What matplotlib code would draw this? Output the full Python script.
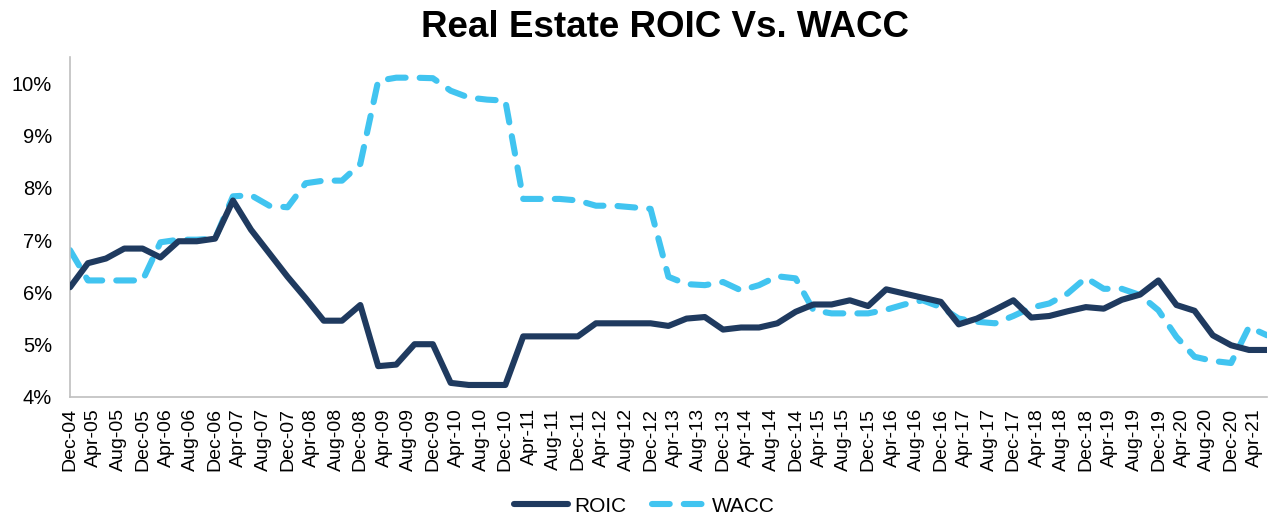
import numpy as np
import pandas as pd
import matplotlib
matplotlib.use("Agg")
import matplotlib.pyplot as plt

plt.rcParams['font.family'] = ['Liberation Sans', 'DejaVu Sans']

# Quarterly data, Dec-04 to Jun-21 (values in %)
datas = pd.date_range("2004-12-31", periods=67, freq="QE")

roic = [6.10, 6.56, 6.65, 6.84, 6.84, 6.67, 6.98, 6.98, 7.03, 7.76,
        7.20, 6.75, 6.30, 5.89, 5.46, 5.46, 5.76, 4.59, 4.62, 5.01,
        5.01, 4.27, 4.23, 4.23, 4.23, 5.16, 5.16, 5.16, 5.16, 5.41,
        5.41, 5.41, 5.41, 5.36, 5.50, 5.53, 5.29, 5.33, 5.33, 5.41,
        5.63, 5.77, 5.77, 5.85, 5.74, 6.06, 5.98, 5.90, 5.82, 5.39,
        5.50, 5.67, 5.85, 5.52, 5.55, 5.64, 5.72, 5.69, 5.86, 5.96,
        6.23, 5.76, 5.65, 5.18, 4.99, 4.90, 4.90]

wacc = [6.81, 6.23, 6.23, 6.23, 6.23, 6.96, 7.01, 7.01, 7.03, 7.84,
        7.86, 7.66, 7.63, 8.09, 8.14, 8.14, 8.46, 10.05, 10.11, 10.11,
        10.10, 9.86, 9.73, 9.69, 9.67, 7.79, 7.79, 7.79, 7.76, 7.66,
        7.66, 7.63, 7.60, 6.30, 6.16, 6.14, 6.20, 6.04, 6.14, 6.31,
        6.27, 5.66, 5.60, 5.60, 5.60, 5.67, 5.77, 5.85, 5.72, 5.50,
        5.44, 5.41, 5.55, 5.71, 5.79, 5.98, 6.28, 6.07, 6.07, 5.95,
        5.66, 5.15, 4.77, 4.69, 4.65, 5.34, 5.18]

# Rótulos do eixo x a cada 4 meses
ticks_x = pd.date_range("2004-12-31", "2021-04-30", freq="4ME")
ticks_y = [4, 5, 6, 7, 8, 9, 10]

cor_roic = "#1F3A5F"
cor_wacc = "#41C4F0"

fig = plt.figure(figsize=(12.71, 5.18), dpi=100)
ax = fig.add_axes([0.0551, 0.2336, 0.9418, 0.6558])

ax.plot(datas, roic, color=cor_roic, lw=4.4, solid_capstyle="round",
        solid_joinstyle="round", label="ROIC", zorder=3)
ax.plot(datas, wacc, color=cor_wacc, lw=4.4, dashes=(2.9, 2.3),
        dash_capstyle="round", dash_joinstyle="round", label="WACC", zorder=2)

ax.set_xlim(datas[0], datas[-1])
ax.set_ylim(4, 10.5)
ax.set_yticks(ticks_y)
ax.set_yticklabels([f"{v}%" for v in ticks_y], fontsize=14.5)
ax.set_xticks(ticks_x)
ax.set_xticklabels([d.strftime("%b-%y") for d in ticks_x], rotation=90,
                   fontsize=14)
ax.tick_params(axis="y", length=0, pad=13)
ax.tick_params(axis="x", length=0, pad=8)

for lado in ["top", "right"]:
    ax.spines[lado].set_visible(False)
for lado in ["left", "bottom"]:
    ax.spines[lado].set_color("#BFBFBF")
    ax.spines[lado].set_linewidth(1.2)

fig.suptitle("Real Estate ROIC Vs. WACC", fontsize=26.5, fontweight="bold",
             x=0.523, y=0.98, va="top")

fig.legend(loc="center", bbox_to_anchor=(0.507, 0.023), ncol=2, frameon=False,
           fontsize=15, handlelength=2.6, columnspacing=1.2, handletextpad=0.3)

fig.savefig("out.png", dpi=100)
